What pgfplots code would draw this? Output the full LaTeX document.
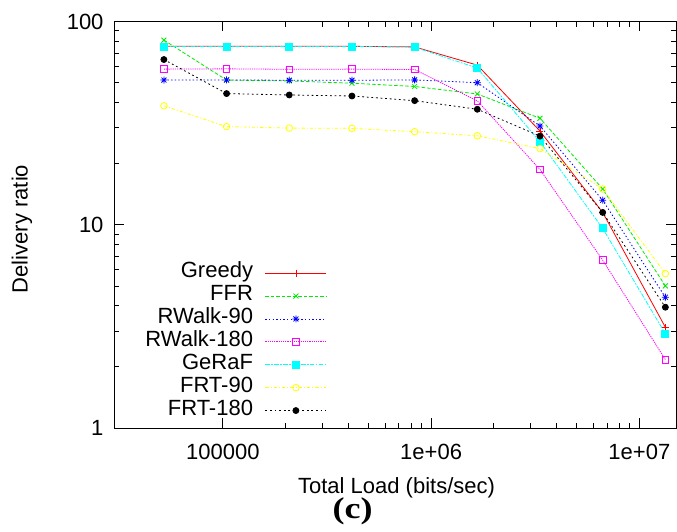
\documentclass[border=0pt]{standalone}
\usepackage{fontspec}
\setmainfont{Liberation Sans}
\newfontfamily\serifbf{Liberation Serif}[FakeStretch=1.2]
\usepackage{pgfplots}
\pgfplotsset{compat=1.18}
\pgfdeclareplotmark{gpstar}{%
  \pgfpathmoveto{\pgfqpoint{-\pgfplotmarksize}{0pt}}\pgfpathlineto{\pgfqpoint{\pgfplotmarksize}{0pt}}%
  \pgfpathmoveto{\pgfqpoint{0pt}{-\pgfplotmarksize}}\pgfpathlineto{\pgfqpoint{0pt}{\pgfplotmarksize}}%
  \pgfpathmoveto{\pgfqpoint{-0.707\pgfplotmarksize}{-0.707\pgfplotmarksize}}\pgfpathlineto{\pgfqpoint{0.707\pgfplotmarksize}{0.707\pgfplotmarksize}}%
  \pgfpathmoveto{\pgfqpoint{-0.707\pgfplotmarksize}{0.707\pgfplotmarksize}}\pgfpathlineto{\pgfqpoint{0.707\pgfplotmarksize}{-0.707\pgfplotmarksize}}%
  \pgfusepathqstroke}
\definecolor{gpred}{RGB}{255,0,0}
\definecolor{gpgreen}{RGB}{0,235,0}
\definecolor{gpblue}{RGB}{0,0,255}
\definecolor{gpmag}{RGB}{255,0,255}
\definecolor{gpcyan}{RGB}{0,255,255}
\definecolor{gpyellow}{RGB}{255,255,0}
\begin{document}
\begin{tikzpicture}
\path[use as bounding box] (0,0) rectangle (677pt,531pt);
\begin{axis}[
  at={(114pt,103pt)}, anchor=south west,
  scale only axis, width=562pt, height=406.5pt,
  xmode=log, ymode=log,
  xmin=30000, xmax=15000000, ymin=1, ymax=100,
  xtick={100000,1000000,10000000}, xticklabels={100000,1e+06,1e+07},
  ytick={1,10,100}, yticklabels={1,10,100},
  /pgf/number format/assume math mode=true,
  tick label style={font=\fontsize{22}{25}\selectfont},
  xticklabel style={yshift=-13pt},
  yticklabel style={xshift=-7pt},
  major tick length=10pt, minor tick length=5.5pt,
  tick style={black, line width=0.8pt},
  axis line style={line width=0.9pt},
  xlabel={Total Load (bits/sec)}, ylabel={Delivery ratio},
  label style={font=\fontsize{22}{25}\selectfont},
  xlabel style={at={(axis description cs:0.5027,-0.16)}, anchor=base},
  ylabel style={at={(axis description cs:-0.1637,0.4895)}, anchor=center},
  clip=false,
  legend cell align=right,
  legend plot pos=right,
  legend style={at={(0.379,0.4096)}, anchor=north east, draw=none, fill=none,
    inner sep=0pt, column sep=12pt, row sep=0pt,
    font=\fontsize{22}{24}\selectfont,
    nodes={inner sep=0pt, text height=16pt, text depth=6.9pt}},
  legend image code/.code={\draw[mark repeat=2,mark phase=2] plot coordinates {(0pt,0pt) (30.5pt,0pt) (61pt,0pt)};},
  every axis plot/.append style={line width=0.8pt},
]
\addplot[gpred, solid, mark=+, mark size=3.5pt, mark options={solid}] coordinates {
(52083,75.5) (104167,75.5) (208333,75.5) (416667,75.5) (833333,75) (1666667,61) (3333333,28.9) (6666667,11.5) (13333333,3.13)};
\addlegendentry{Greedy}
\addplot[gpgreen, dash pattern=on 3.5pt off 2pt, mark=x, mark size=3.5pt, mark options={solid}] coordinates {
(52083,81) (104167,51.5) (208333,51) (416667,49.7) (833333,47.9) (1666667,44) (3333333,33.4) (6666667,15) (13333333,5.0)};
\addlegendentry{FFR}
\addplot[gpblue, dash pattern=on 1.4pt off 2.2pt, mark=gpstar, mark size=3.5pt, mark options={solid}] coordinates {
(52083,51.5) (104167,51.6) (208333,51.4) (416667,51.4) (833333,51.6) (1666667,50) (3333333,30.6) (6666667,13.2) (13333333,4.4)};
\addlegendentry{RWalk-90}
\addplot[gpmag, dash pattern=on 1.2pt off 1pt, mark=square, mark size=3.3pt, mark options={solid}] coordinates {
(52083,58.3) (104167,58.5) (208333,58.2) (416667,58.3) (833333,58) (1666667,40.7) (3333333,18.7) (6666667,6.7) (13333333,2.17)};
\addlegendentry{RWalk-180}
\addplot[gpcyan, dash pattern=on 4.5pt off 1.4pt on 1.6pt off 1.4pt, mark=square*, mark size=3.5pt, mark options={solid}] coordinates {
(52083,75.4) (104167,75.4) (208333,75.4) (416667,75.4) (833333,74.8) (1666667,59) (3333333,25.6) (6666667,9.6) (13333333,2.91)};
\addlegendentry{GeRaF}
\addplot[gpyellow, dash pattern=on 3.3pt off 2pt on 1pt off 2pt, mark=o, mark size=3.3pt, mark options={solid}] coordinates {
(52083,38.5) (104167,30.4) (208333,29.9) (416667,29.8) (833333,28.7) (1666667,27.4) (3333333,23.7) (6666667,15) (13333333,5.75)};
\addlegendentry{FRT-90}
\addplot[black, dash pattern=on 1.8pt off 2.8pt, mark=*, mark size=3pt, mark options={solid}] coordinates {
(52083,65) (104167,44.2) (208333,43.5) (416667,43) (833333,40.8) (1666667,37) (3333333,27.3) (6666667,11.5) (13333333,3.93)};
\addlegendentry{FRT-180}
\node[font=\serifbf\bfseries\fontsize{30}{33}\selectfont, anchor=center] at (axis description cs:0.4244,-0.2054) {(c)};
\end{axis}
\end{tikzpicture}
\end{document}
